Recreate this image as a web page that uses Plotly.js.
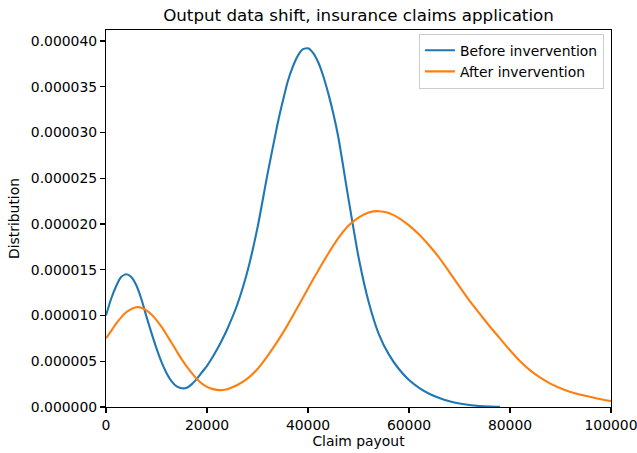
<!DOCTYPE html>
<html>
<head>
<meta charset="utf-8">
<script src="https://cdn.plot.ly/plotly-3.0.1.min.js"></script>
<style>html,body{margin:0;padding:0;background:#fff;}#chart{width:637px;height:453px;}</style>
</head>
<body>
<div id="chart"></div>
<script>
const beforeX = [0,1000,2000,3000,4000,5000,6000,7000,8000,9000,10000,11000,12000,13000,14000,15000,16000,17000,18000,19000,20000,21000,22000,23000,24000,26000,28000,30000,32000,34000,35000,36000,37000,38000,39000,40000,41000,42000,43000,44000,45000,46000,48000,50000,52000,54000,56000,58000,60000,62000,64000,66000,68000,70000,72000,74000,76000,78000];
const beforeY = [1.00e-5,1.18e-5,1.32e-5,1.42e-5,1.45e-5,1.42e-5,1.33e-5,1.18e-5,9.9e-6,8.1e-6,6.4e-6,4.9e-6,3.7e-6,2.8e-6,2.25e-6,2.05e-6,2.1e-6,2.5e-6,3.1e-6,3.8e-6,4.5e-6,5.35e-6,6.3e-6,7.35e-6,8.5e-6,1.12e-5,1.48e-5,1.96e-5,2.55e-5,3.1e-5,3.34e-5,3.56e-5,3.72e-5,3.84e-5,3.91e-5,3.92e-5,3.87e-5,3.77e-5,3.62e-5,3.43e-5,3.21e-5,2.95e-5,2.28e-5,1.64e-5,1.15e-5,8.0e-6,5.75e-6,4.15e-6,2.95e-6,2.1e-6,1.45e-6,9.8e-7,6.3e-7,3.8e-7,2.1e-7,1e-7,4e-8,1e-8];

const afterX = [0,1000,2000,3000,4000,5000,6000,7000,8000,9000,10000,11000,12000,13000,14000,15000,16000,17000,18000,19000,20000,21000,22000,23000,24000,26000,28000,30000,32000,34000,36000,38000,40000,42000,44000,46000,48000,50000,52000,54000,56000,58000,60000,62000,64000,66000,68000,70000,72000,74000,76000,78000,80000,82000,84000,86000,88000,90000,92000,94000,96000,98000,100000];
const afterY = [7.5e-6,8.3e-6,9.1e-6,9.8e-6,1.035e-5,1.07e-5,1.09e-5,1.085e-5,1.055e-5,1.01e-5,9.5e-6,8.75e-6,7.9e-6,7.0e-6,6.1e-6,5.2e-6,4.4e-6,3.7e-6,3.05e-6,2.55e-6,2.2e-6,1.98e-6,1.87e-6,1.85e-6,1.95e-6,2.4e-6,3.1e-6,4.15e-6,5.6e-6,7.2e-6,9.0e-6,1.095e-5,1.295e-5,1.49e-5,1.675e-5,1.845e-5,1.98e-5,2.07e-5,2.125e-5,2.14e-5,2.12e-5,2.065e-5,1.985e-5,1.885e-5,1.765e-5,1.63e-5,1.475e-5,1.315e-5,1.16e-5,1.02e-5,8.8e-6,7.5e-6,6.2e-6,5.0e-6,4.0e-6,3.2e-6,2.55e-6,2.05e-6,1.65e-6,1.35e-6,1.1e-6,8.5e-7,6.5e-7];

const seriesNames = ['Before invervention','After invervention'];
const xTicks = [0,20000,40000,60000,80000,100000];
const yTicks = [0,0.000005,0.00001,0.000015,0.00002,0.000025,0.00003,0.000035,0.00004];

const font = {family: 'DejaVu Sans', size: 13.9, color: '#000'};
const traces = [
  {x: beforeX, y: beforeY, name: seriesNames[0], type: 'scatter', mode: 'lines', line: {color: '#1f77b4', width: 2.1, shape: 'spline', smoothing: 0.6}},
  {x: afterX, y: afterY, name: seriesNames[1], type: 'scatter', mode: 'lines', line: {color: '#ff7f0e', width: 2.1, shape: 'spline', smoothing: 0.6}}
];
const axisCommon = {showline: true, mirror: true, linecolor: '#000', linewidth: 1.1, ticks: 'outside', ticklen: 5, tickwidth: 1.1, tickcolor: '#000', showgrid: false, zeroline: false, tickfont: font, ticklabeloverflow: 'allow'};
const layout = {
  width: 637, height: 453,
  margin: {l: 106, r: 26, t: 30, b: 46},
  paper_bgcolor: '#fff', plot_bgcolor: '#fff',
  font: font,
  title: {text: 'Output data shift, insurance claims application', font: {family: 'DejaVu Sans', size: 16.7, color: '#000'}, x: 0.5, xref: 'paper', y: 1, yref: 'paper', yanchor: 'bottom', pad: {b: 9}},
  xaxis: Object.assign({}, axisCommon, {range: [0, 100000.5], tickvals: xTicks, ticktext: xTicks.map(String), title: {text: 'Claim payout', font: font, standoff: 4}}),
  yaxis: Object.assign({}, axisCommon, {range: [0, 0.0000412], tickvals: yTicks, ticktext: yTicks.map(v => v.toFixed(6)), title: {text: 'Distribution', font: font, standoff: 8}}),
  showlegend: true,
  legend: {x: 0.986, y: 0.99, xanchor: 'right', yanchor: 'top', bgcolor: 'rgba(255,255,255,0.8)', bordercolor: '#cccccc', borderwidth: 1, font: font, tracegroupgap: 0}
};
Plotly.newPlot('chart', traces, layout, {staticPlot: true, displayModeBar: false});
</script>
</body>
</html>
